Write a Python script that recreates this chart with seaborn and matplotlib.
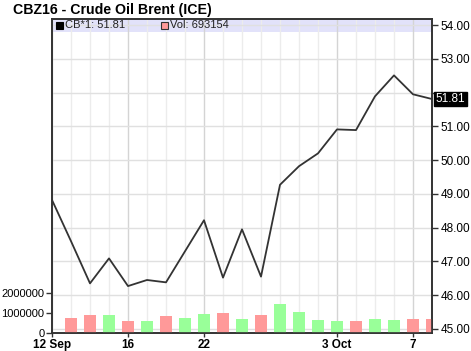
import numpy as np
import pandas as pd
import matplotlib
matplotlib.use('Agg')
import matplotlib.pyplot as plt
import seaborn as sns
from matplotlib.patches import Rectangle
from matplotlib.ticker import FixedLocator, MultipleLocator, FuncFormatter

# trading days 12 Sep .. 10 Oct 2016
days = ['12 Sep', '13 Sep', '14 Sep', '15 Sep', '16 Sep',
        '19 Sep', '20 Sep', '21 Sep', '22 Sep', '23 Sep',
        '26 Sep', '27 Sep', '28 Sep', '29 Sep', '30 Sep',
        '3 Oct', '4 Oct', '5 Oct', '6 Oct', '7 Oct', '10 Oct']
prices = [48.82, 47.60, 46.35, 47.09, 46.27, 46.45, 46.38, 47.30, 48.22, 46.52,
          47.95, 46.55, 49.27, 49.82, 50.20, 50.91, 50.89, 51.89, 52.51, 51.95, 51.81]
volumes = [np.nan, 770000, 880000, 880000, 620000, 620000, 830000, 770000, 930000, 1000000,
           720000, 880000, 1430000, 1050000, 670000, 620000, 620000, 720000, 670000, 720000, 693154]
tick_days = ['12 Sep', '16 Sep', '22 Sep', '3 Oct', '7 Oct']
tick_labels = ['12 Sep', '16', '22', '3 Oct', '7']
price_ticks = [45, 46, 47, 48, 49, 50, 51, 52, 53, 54]
vol_ticks = [0, 1000000, 2000000]

W, H = 471, 351
def fx(x): return x / W
def fy(y): return 1 - y / H

plt.rcParams['font.family'] = ['Liberation Sans', 'DejaVu Sans']

df = pd.DataFrame({'day': np.arange(len(days)), 'price': prices, 'vol': volumes})
df['dir'] = np.where(df['price'].diff() < 0, 'down', 'up')
vol_df = df.dropna(subset=['vol'])

fig = plt.figure(figsize=(W / 100, H / 100), dpi=100)
ax_px = fig.add_axes([fx(52), 1 - 333 / H, (432 - 52) / W, (333 - 19) / H])
ax_vol = ax_px.twinx()
ax_px.yaxis.tick_right()
ax_vol.yaxis.tick_left()

# legend band at the top of the plot
ax_px.add_patch(Rectangle((0, 1 - 13 / 314), 1, 13 / 314, transform=ax_px.transAxes,
                          fc='#e2e2fa', ec='none', zorder=0.5))

sns.lineplot(data=df, x='day', y='price', color='#333333', lw=1.3, ax=ax_px)
sns.barplot(data=vol_df, x='day', y='vol', hue='dir',
            palette={'up': '#99ff99', 'down': '#ff9999'}, saturation=1,
            dodge=False, native_scale=True, width=0.68, linewidth=0,
            legend=False, ax=ax_vol)

ax_px.set_xlim(0, len(days) - 1)
ax_px.set_ylim(44.88, 54.18)
ax_vol.set_ylim(0, 15.7e6)
for a in (ax_px, ax_vol):
    a.set_xlabel('')
    a.set_ylabel('')

major_pos = [days.index(d) for d in tick_days]
ax_px.xaxis.set_major_locator(FixedLocator(major_pos))
ax_px.set_xticklabels(tick_labels, fontweight='bold', fontsize=8.5)
ax_px.xaxis.set_minor_locator(MultipleLocator(1))
ax_px.grid(True, which='minor', axis='x', color='#ececec', lw=1)
ax_px.grid(True, which='major', axis='x', color='#d4d4d4', lw=1)
ax_px.set_yticks(price_ticks)
last = prices[-1]
ax_px.set_yticklabels(['' if abs(p - last) < 0.5 else f'{p:.2f}' for p in price_ticks])
ax_px.grid(True, which='major', axis='y', color='#e0e0e0', lw=1)

ax_vol.set_yticks(vol_ticks)
ax_vol.yaxis.set_major_formatter(FuncFormatter(lambda v, p: f'{v:.0f}'))

ax_px.tick_params(axis='y', length=4, width=1, color='#333333', pad=2, labelsize=8.5)
ax_vol.tick_params(axis='y', length=4, width=1, color='#333333', pad=1.5, labelsize=8)
ax_px.tick_params(axis='x', which='major', length=3, width=1, color='#333333', pad=1.5)
ax_px.tick_params(axis='x', which='minor', length=0)
for a in (ax_px, ax_vol):
    for s in a.spines.values():
        s.set_color('#333333')
        s.set_linewidth(1.2)

ax_px.annotate(f'{last:.2f}', xy=(1, last), xycoords=('axes fraction', 'data'),
               xytext=(2.5, 0), textcoords='offset points', va='center', ha='left',
               color='white', fontsize=8.5, annotation_clip=False, zorder=10,
               bbox=dict(boxstyle='square,pad=0.12', fc='black', ec='black'))

fig.text(fx(13), fy(10), 'CBZ16 - Crude Oil Brent (ICE)', fontweight='bold',
         fontsize=10.2, va='center', ha='left')
fig.patches.append(Rectangle((fx(56), fy(29)), 7 / W, 7 / H, transform=fig.transFigure,
                             fc='black', ec='black', lw=0.8))
fig.text(fx(65), fy(25.5), f'CB*1: {last:.2f}', fontsize=8, va='center', color='#222222')
fig.patches.append(Rectangle((fx(161), fy(29)), 7 / W, 7 / H, transform=fig.transFigure,
                             fc='#ff9999', ec='#333333', lw=0.8))
fig.text(fx(170), fy(25.5), f'Vol: {volumes[-1]:.0f}', fontsize=8, va='center', color='#222222')

fig.savefig('out.png', dpi=100)
